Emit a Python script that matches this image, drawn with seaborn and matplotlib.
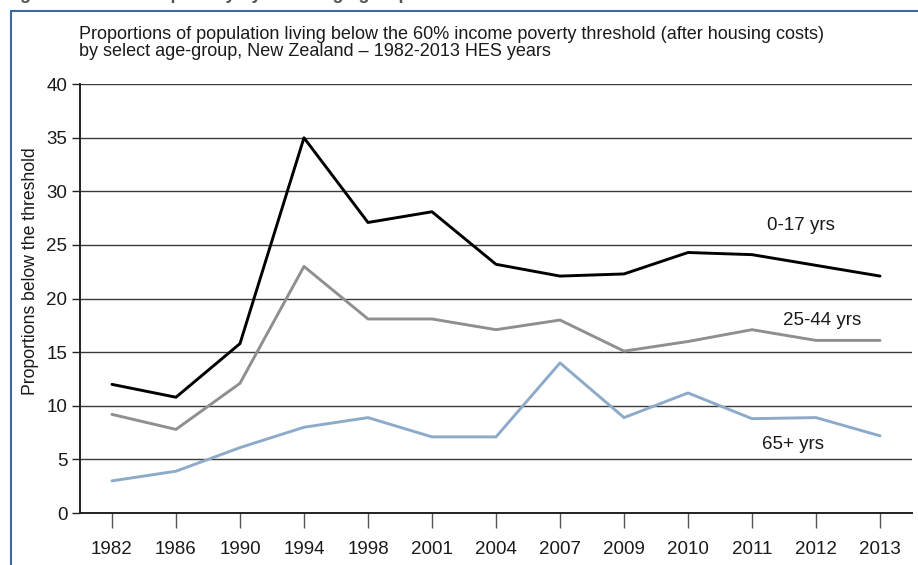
import matplotlib
matplotlib.use("Agg")
import matplotlib.pyplot as plt
from matplotlib.lines import Line2D
import pandas as pd
import seaborn as sns

# data
years = ["1982", "1986", "1990", "1994", "1998", "2001", "2004",
         "2007", "2009", "2010", "2011", "2012", "2013"]
age_0_17 = [12.0, 10.8, 15.8, 35.0, 27.1, 28.1, 23.2, 22.1, 22.3, 24.3, 24.1, 23.1, 22.1]
age_25_44 = [9.2, 7.8, 12.1, 23.0, 18.1, 18.1, 17.1, 18.0, 15.1, 16.0, 17.1, 16.1, 16.1]
age_65_plus = [3.0, 3.9, 6.1, 8.0, 8.9, 7.1, 7.1, 14.0, 8.9, 11.2, 8.8, 8.9, 7.2]
groups = ["0-17 yrs", "25-44 yrs", "65+ yrs"]
yticks = [0, 5, 10, 15, 20, 25, 30, 35, 40]

sns.set_theme(style="white")
plt.rcParams["font.family"] = ["Liberation Sans", "DejaVu Sans"]

df = pd.DataFrame({
    "year": years * 3,
    "value": age_0_17 + age_25_44 + age_65_plus,
    "group": [g for g in groups for _ in years],
})

pal = {"0-17 yrs": "#000000", "25-44 yrs": "#8f8f8f", "65+ yrs": "#8eaac9"}

fig = plt.figure(figsize=(9.18, 5.65), dpi=100)
ax = fig.add_axes([0.0871, 0.092, 0.9064, 0.759])

for g in groups:
    sub = df[df["group"] == g]
    sns.lineplot(data=sub, x="year", y="value", color=pal[g], lw=2.1,
                 sort=False, ax=ax, zorder=3)

ax.set_xlim(-0.5, len(years) - 0.5)
ax.set_ylim(0, 40)
ax.set_yticks(yticks)
ax.yaxis.grid(True, color="#3a3a3a", lw=1.0)
ax.set_axisbelow(True)
for s in ["top", "right"]:
    ax.spines[s].set_visible(False)
for s in ["left", "bottom"]:
    ax.spines[s].set_color("#222222")
    ax.spines[s].set_linewidth(1.4)

ax.tick_params(axis="y", left=True, length=6, width=1, color="#222222",
               labelsize=13.5, pad=3, labelcolor="#1a1a1a")
ax.tick_params(axis="x", bottom=True, length=11, width=1, color="#555555",
               labelsize=13.5, pad=9, labelcolor="#1a1a1a")
ax.set_xlabel("")
ax.set_ylabel("Proportions below the threshold", fontsize=12.7, color="#1a1a1a")
ax.yaxis.set_label_coords(-0.049, 0.564)

# series labels
ax.text(10.77, 26.8, "0-17 yrs", fontsize=13.5, ha="center", va="center", color="#1a1a1a")
ax.text(11.1, 18.0, "25-44 yrs", fontsize=13.5, ha="center", va="center", color="#1a1a1a")
ax.text(10.64, 6.4, "65+ yrs", fontsize=13.5, ha="center", va="center", color="#1a1a1a")

fig.text(0.086, 1 - 26 / 565,
         "Proportions of population living below the 60% income poverty threshold (after housing costs)\n"
         "by select age-group, New Zealand \u2013 1982-2013 HES years",
         fontsize=13, va="top", ha="left", linespacing=1.02, color="#1a1a1a")

# figure heading, cut off by the top edge as in the source
fig.text(0.004, 1 + 1 / 565, "Figure E.2: Income poverty by select age groups",
         fontsize=13, fontweight="bold", va="baseline", ha="left", color="#555555")

# blue frame (top and left edges)
frame_c = "#3a68a3"
fig.add_artist(Line2D([11 / 918, 1.0], [1 - 11 / 565, 1 - 11 / 565],
                      transform=fig.transFigure, color=frame_c, lw=1.5))
fig.add_artist(Line2D([11 / 918, 11 / 918], [0.0, 1 - 11 / 565],
                      transform=fig.transFigure, color=frame_c, lw=1.5))

fig.savefig("out.png", dpi=100)
